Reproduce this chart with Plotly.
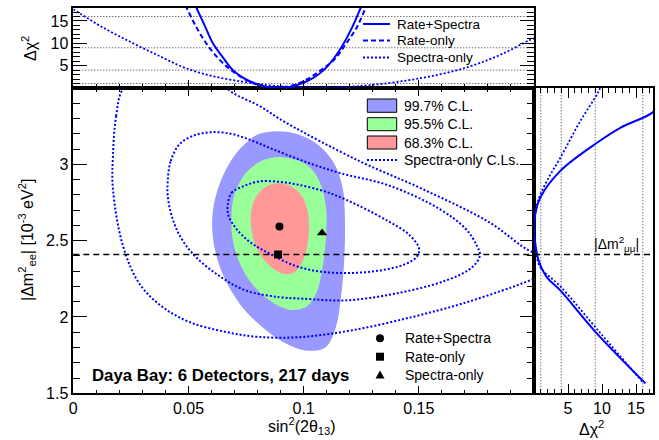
import plotly.graph_objects as go

# ------------------------------------------------------------------ data
# Main panel: Rate+Spectra confidence regions  (sin^2 2theta13 , |dm2_ee| [1e-3 eV^2])
cl997_s2t = [0.0808, 0.0924, 0.1039, 0.1126, 0.1169, 0.1179, 0.1176, 0.1162, 0.1140, 0.1097,
             0.1025, 0.0938, 0.0837, 0.0722, 0.0642, 0.0606, 0.0606, 0.0635, 0.0693, 0.0751]
cl997_dm2 = [3.200, 3.213, 3.152, 3.022, 2.848, 2.652, 2.370, 2.130, 1.934, 1.804,
             1.778, 1.815, 1.913, 2.087, 2.304, 2.521, 2.696, 2.870, 3.043, 3.141]

cl955_s2t = [0.0895, 0.1010, 0.1068, 0.1097, 0.1097, 0.1082, 0.1054, 0.1010, 0.0938, 0.0852,
             0.0765, 0.0707, 0.0686, 0.0700, 0.0751, 0.0823]
cl955_dm2 = [3.048, 3.000, 2.891, 2.717, 2.522, 2.326, 2.152, 2.065, 2.048, 2.109,
             2.239, 2.413, 2.609, 2.805, 2.946, 3.026]

cl683_s2t = [0.0909, 0.0981, 0.1017, 0.1022, 0.1003, 0.0960, 0.0909, 0.0852, 0.0801, 0.0772,
             0.0779, 0.0830]
cl683_dm2 = [2.874, 2.815, 2.696, 2.544, 2.391, 2.293, 2.283, 2.337, 2.435, 2.587,
             2.739, 2.848]

# Spectra-only contours
sp683_s2t = [0.0670, 0.0687, 0.0743, 0.0808, 0.0895, 0.0981, 0.1111, 0.1241, 0.1371, 0.1458,
             0.1501, 0.1492, 0.1436, 0.1328, 0.1198, 0.1068, 0.0960, 0.0852, 0.0765, 0.0704, 0.0674]
sp683_dm2 = [2.728, 2.813, 2.859, 2.888, 2.885, 2.865, 2.813, 2.728, 2.624, 2.539,
             2.448, 2.396, 2.343, 2.304, 2.288, 2.298, 2.337, 2.415, 2.493, 2.585, 2.663]

sp955_s2t = [0.0410, 0.0423, 0.0462, 0.0527, 0.0605, 0.0691, 0.0778, 0.0865, 0.0994, 0.1155,
             0.1371, 0.1588, 0.1703, 0.1752, 0.1765, 0.1730, 0.1618, 0.1401, 0.1185, 0.0994,
             0.0895, 0.0748, 0.0618, 0.0518, 0.0462, 0.0427, 0.0410]
sp955_dm2 = [2.891, 3.022, 3.133, 3.191, 3.211, 3.198, 3.154, 3.100, 3.024, 2.944,
             2.861, 2.709, 2.578, 2.467, 2.402, 2.324, 2.239, 2.154, 2.109, 2.120,
             2.130, 2.174, 2.285, 2.415, 2.533, 2.663, 2.794]

sp997_s2t = [0.0215, 0.0186, 0.0172, 0.0172, 0.0215, 0.0287, 0.0388, 0.0504, 0.0662, 0.0807,
             0.0994, 0.1211, 0.1471, 0.1687, 0.1904, 0.1994, 0.2080, 0.2120, 0.2080, 0.1991,
             0.1804, 0.1515, 0.1241, 0.0922, 0.0807, 0.0691, 0.0600, 0.0450, 0.0300]
sp997_dm2 = [3.492, 3.317, 3.056, 2.839, 2.469, 2.218, 2.065, 1.967, 1.902, 1.869,
             1.869, 1.913, 2.000, 2.087, 2.195, 2.246, 2.290, 2.350, 2.400, 2.426,
             2.622, 2.839, 3.022, 3.274, 3.383, 3.470, 3.580, 3.620, 3.580]

# Best-fit points
best_labels = ["Rate+Spectra", "Rate-only", "Spectra-only"]
best_s2t = [0.0895, 0.0889, 0.1080]
best_dm2 = [2.593, 2.410, 2.550]

dm2_mumu = 2.41

# Top panel: delta chi2 vs sin^2 2theta13
rs_s2t = [0.0520, 0.0534, 0.0570, 0.0606, 0.0650, 0.0693, 0.0740, 0.0790, 0.0840, 0.0890,
          0.0940, 0.0990, 0.1040, 0.1087, 0.1130, 0.1170, 0.1210, 0.1248, 0.1260]
rs_chi2 = [19.5, 18.0, 14.0, 10.0, 6.8, 4.0, 2.2, 1.0, 0.25, 0.0,
           0.25, 1.0, 2.2, 4.0, 6.5, 9.6, 13.5, 18.0, 19.5]

ro_s2t = [0.0470, 0.0491, 0.0530, 0.0577, 0.0630, 0.0680, 0.0730, 0.0780, 0.0830, 0.0880,
          0.0930, 0.0980, 0.1030, 0.1080, 0.1130, 0.1180, 0.1230, 0.1270, 0.1290]
ro_chi2 = [20.0, 18.0, 14.0, 10.0, 6.6, 4.2, 2.4, 1.1, 0.3, 0.0,
           0.3, 1.1, 2.4, 4.2, 6.2, 9.6, 13.5, 18.0, 20.0]

so_s2t = [0.000, 0.013, 0.026, 0.038, 0.049, 0.061, 0.0736, 0.085, 0.097, 0.108,
          0.120, 0.132, 0.145, 0.155, 0.166, 0.176, 0.187, 0.198, 0.200]
so_chi2 = [17.6, 13.5, 10.0, 7.0, 4.4, 2.6, 1.4, 0.6, 0.15, 0.0,
           0.3, 0.8, 1.7, 2.6, 3.9, 5.5, 7.8, 10.7, 11.1]

# Right panel: delta chi2 vs |dm2_ee|
rsr_dm2 = [3.400, 3.337, 3.239, 3.141, 2.957, 2.782, 2.674, 2.587, 2.478, 2.370, 2.260, 2.174, 1.891, 1.565]
rsr_chi2 = [18.6, 17.35, 12.69, 9.26, 3.87, 0.93, 0.19, 0.0, 0.2, 0.68, 1.9, 3.87, 9.26, 16.4]

sor_dm2 = [3.550, 3.478, 3.283, 3.043, 2.891, 2.739, 2.550, 2.420, 2.326, 2.201, 1.895, 1.577]
sor_chi2 = [10.1, 9.5, 6.8, 3.87, 1.9, 0.44, 0.0, 0.3, 0.93, 3.87, 9.75, 15.9]

chi2_levels = [1, 4, 9, 16]

# ------------------------------------------------------------------ layout helpers
W, H = 659, 440
FONT = "Liberation Sans, Arial, Helvetica, sans-serif"
BLUE = "#0000ff"
F997, F955, F683 = "#9999ff", "#99ff99", "#ff9999"


def px(x):
    return x / W


def py(y):
    return 1 - y / H


def closed(a):
    return list(a) + [a[0]]


XL, XM, XR = px(73.3), px(534), px(653)
YB, YM, YT = py(393.3), py(88), py(8)

fig = go.Figure()

# filled confidence regions
for xs, ys, col in [(cl997_s2t, cl997_dm2, F997), (cl955_s2t, cl955_dm2, F955), (cl683_s2t, cl683_dm2, F683)]:
    fig.add_trace(go.Scatter(x=closed(xs), y=closed(ys), mode="lines", fill="toself", fillcolor=col,
                             line=dict(width=0, color=col, shape="spline", smoothing=1.0),
                             hoverinfo="skip", showlegend=False, xaxis="x", yaxis="y"))

# spectra-only contours
for xs, ys in [(sp997_s2t, sp997_dm2), (sp955_s2t, sp955_dm2), (sp683_s2t, sp683_dm2)]:
    fig.add_trace(go.Scatter(x=closed(xs), y=closed(ys), mode="lines",
                             line=dict(width=2, color=BLUE, dash="2px,2px", shape="spline", smoothing=1.0),
                             hoverinfo="skip", showlegend=False, xaxis="x", yaxis="y"))

# best fit markers
for lab, xv, yv, sym, sz in zip(best_labels, best_s2t, best_dm2, ["circle", "square", "triangle-up"], [8, 8, 9]):
    fig.add_trace(go.Scatter(x=[xv], y=[yv], mode="markers", name=lab,
                             marker=dict(symbol=sym, size=sz, color="black"),
                             showlegend=False, xaxis="x", yaxis="y"))

# top panel curves
fig.add_trace(go.Scatter(x=so_s2t, y=so_chi2, mode="lines",
                         line=dict(width=1.8, color=BLUE, dash="2px,2px", shape="spline"),
                         showlegend=False, xaxis="x2", yaxis="y2"))
fig.add_trace(go.Scatter(x=ro_s2t, y=ro_chi2, mode="lines",
                         line=dict(width=2, color=BLUE, dash="5px,3px", shape="spline"),
                         showlegend=False, xaxis="x2", yaxis="y2"))
fig.add_trace(go.Scatter(x=rs_s2t, y=rs_chi2, mode="lines",
                         line=dict(width=2, color=BLUE, shape="spline"),
                         showlegend=False, xaxis="x2", yaxis="y2"))

# right panel curves
fig.add_trace(go.Scatter(x=sor_chi2, y=sor_dm2, mode="lines",
                         line=dict(width=1.8, color=BLUE, dash="2px,2px", shape="spline"),
                         showlegend=False, xaxis="x3", yaxis="y3"))
fig.add_trace(go.Scatter(x=rsr_chi2, y=rsr_dm2, mode="lines",
                         line=dict(width=2, color=BLUE, shape="spline"),
                         showlegend=False, xaxis="x3", yaxis="y3"))

axc = dict(showline=True, linecolor="black", linewidth=1.5, ticks="inside", tickcolor="black",
           tickwidth=1, showgrid=False, zeroline=False,
           tickfont=dict(family=FONT, size=16, color="black"))

fig.update_layout(
    width=W, height=H, autosize=False, margin=dict(l=0, r=0, t=0, b=0, autoexpand=False),
    paper_bgcolor="white", plot_bgcolor="white", showlegend=False,
    font=dict(family=FONT, color="black"),
    xaxis=dict(domain=[XL, XM], range=[0, 0.2], anchor="y", tickmode="array",
               tickvals=[0, 0.05, 0.1, 0.15], ticktext=["0", "0.05", "0.1", "0.15"],
               ticklen=8, mirror="ticks",
               minor=dict(dtick=0.01, tick0=0, ticklen=4, ticks="inside", tickcolor="black"), **axc),
    yaxis=dict(domain=[YB, YM], range=[1.5, 3.5], anchor="x", tickmode="array",
               tickvals=[1.5, 2, 2.5, 3], ticktext=["1.5", "2", "2.5", "3"],
               ticklen=14, mirror="ticks",
               minor=dict(dtick=0.1, tick0=1.5, ticklen=7, ticks="inside", tickcolor="black"), **axc),
    xaxis2=dict(domain=[XL, XM], range=[0, 0.2], anchor="y2", matches="x", showticklabels=False,
                tickmode="array", tickvals=[0, 0.05, 0.1, 0.15, 0.2], ticklen=8, mirror=True,
                minor=dict(dtick=0.01, tick0=0, ticklen=4, ticks="inside", tickcolor="black"), **axc),
    yaxis2=dict(domain=[YM, YT], range=[0, 17.9], anchor="x2", tickmode="array",
                tickvals=[5, 10, 15], ticktext=["5", "10", "15"], ticklen=14, mirror="ticks",
                minor=dict(dtick=1, tick0=0, ticklen=7, ticks="inside", tickcolor="black"), **axc),
    xaxis3=dict(domain=[XM, XR], range=[0, 17.5], anchor="y3", tickmode="array",
                tickvals=[5, 10, 15], ticktext=["5", "10", "15"], ticklen=10, mirror="ticks",
                minor=dict(dtick=1, tick0=0, ticklen=5, ticks="inside", tickcolor="black"), **axc),
    yaxis3=dict(domain=[YB, YM], range=[1.5, 3.5], anchor="x3", matches="y", showticklabels=False,
                showline=True, linecolor="black", linewidth=2, mirror=True, ticks="",
                showgrid=False, zeroline=False),
)

shapes = []
# delta chi2 reference levels
for v in chi2_levels:
    shapes.append(dict(type="line", xref="x2 domain", yref="y2", x0=0, x1=1, y0=v, y1=v,
                       line=dict(color="#333333", width=1, dash="1px,2px"), layer="below"))
    shapes.append(dict(type="line", xref="x3", yref="y3 domain", x0=v, x1=v, y0=0, y1=1,
                       line=dict(color="#333333", width=1, dash="1px,2px"), layer="below"))
# |dm2_mumu| line
for xr, yr in [("x domain", "y"), ("x3 domain", "y3")]:
    shapes.append(dict(type="line", xref=xr, yref=yr, x0=0, x1=1, y0=dm2_mumu, y1=dm2_mumu,
                       line=dict(color="black", width=1.5, dash="6px,4px"), layer="above"))

# top legend
for yy, dash in [(24, "solid"), (40.5, "5px,3px"), (57.5, "2px,2px")]:
    shapes.append(dict(type="line", xref="paper", yref="paper", x0=px(363), x1=px(390), y0=py(yy), y1=py(yy),
                       line=dict(color=BLUE, width=2, dash=dash)))
# CL legend
for (y0, y1), col in zip([(99, 112.3), (117.7, 130.7), (136, 149)], [F997, F955, F683]):
    shapes.append(dict(type="rect", xref="paper", yref="paper", x0=px(367.3), x1=px(396.7),
                       y0=py(y1), y1=py(y0), fillcolor=col, line=dict(color="black", width=1)))
shapes.append(dict(type="line", xref="paper", yref="paper", x0=px(367), x1=px(397), y0=py(160), y1=py(160),
                   line=dict(color=BLUE, width=2, dash="2px,2px")))
# marker legend
mx = 380
shapes.append(dict(type="circle", xref="paper", yref="paper", x0=px(mx - 4), x1=px(mx + 4),
                   y0=py(338.3 + 4), y1=py(338.3 - 4), fillcolor="black", line=dict(color="black", width=0)))
shapes.append(dict(type="rect", xref="paper", yref="paper", x0=px(mx - 4), x1=px(mx + 4),
                   y0=py(356.7 + 4), y1=py(356.7 - 4), fillcolor="black", line=dict(color="black", width=0)))
ty = 375
shapes.append(dict(type="path", xref="paper", yref="paper",
                   path=f"M {px(mx-4.5)} {py(ty+3.5)} L {px(mx+4.5)} {py(ty+3.5)} L {px(mx)} {py(ty-4.5)} Z",
                   fillcolor="black", line=dict(color="black", width=0)))
fig.update_layout(shapes=shapes)

ann = []


def text(x, y, s, size=14, xanchor="left", angle=0, bold=False):
    ann.append(dict(x=px(x), y=py(y), xref="paper", yref="paper", text=f"<b>{s}</b>" if bold else s,
                    showarrow=False, xanchor=xanchor, yanchor="middle", textangle=angle,
                    font=dict(family=FONT, size=size, color="black")))


text(395, 24, "Rate+Spectra", 13.5)
text(395, 40.5, "Rate-only", 13.5)
text(395, 57.5, "Spectra-only", 13.5)
text(402, 105.7, "99.7% C.L.", 14)
text(402, 124.2, "95.5% C.L.", 14)
text(402, 142.5, "68.3% C.L.", 14)
text(402, 160, "Spectra-only C.Ls.", 14)
text(402.7, 338.3, best_labels[0], 14)
text(402.7, 356.7, best_labels[1], 14)
text(402.7, 375, best_labels[2], 14)
text(89.7, 375, "Daya Bay: 6 Detectors, 217 days", 16.8, bold=True)
text(616, 244, "|Δm<sup>2</sup><sub>μμ</sub>|", 14, xanchor="center")
text(302, 426, "sin<sup>2</sup>(2θ<sub>13</sub>)", 16, xanchor="center")
text(27, 240, "|Δm<sup>2</sup><sub>ee</sub>| [10<sup>-3</sup> eV<sup>2</sup>]", 16, xanchor="center", angle=-90)
text(29, 49, "Δχ<sup>2</sup>", 16, xanchor="center", angle=-90)
text(591, 428, "Δχ<sup>2</sup>", 16, xanchor="center")
fig.update_layout(annotations=ann)

fig.write_html(
    "out.html",
    config={"displayModeBar": False, "responsive": False},
    post_script=("document.body.style.margin='0';document.body.style.padding='0';"
                 "document.body.style.overflow='hidden';"
                 "document.documentElement.style.overflow='hidden';"),
)
